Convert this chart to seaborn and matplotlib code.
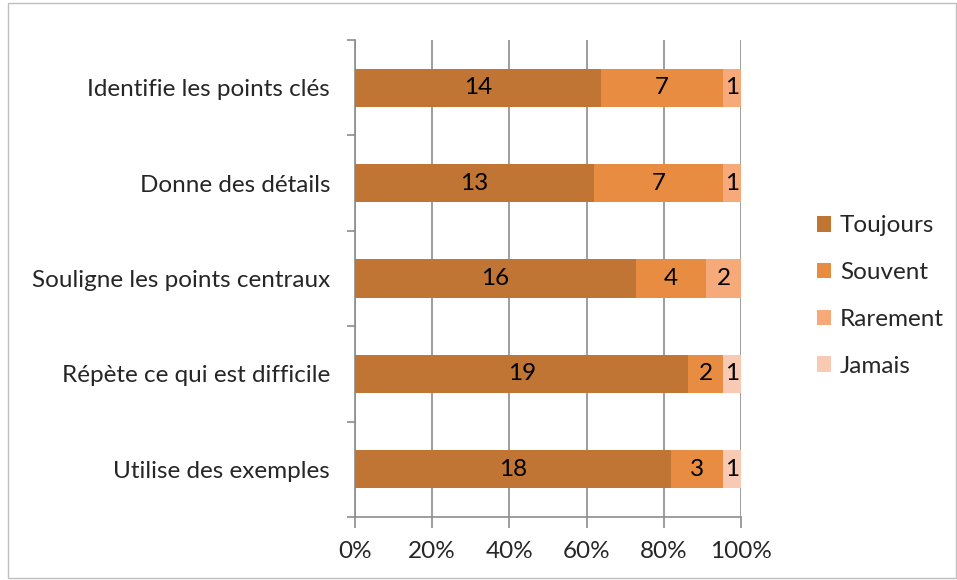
import matplotlib
matplotlib.use("Agg")
import matplotlib.pyplot as plt
import seaborn as sns
import numpy as np
import pandas as pd
from matplotlib.patches import Patch, Rectangle

categories = ["Identifie les points clés", "Donne des détails",
              "Souligne les points centraux", "Répète ce qui est difficile",
              "Utilise des exemples"]
series = ["Toujours", "Souvent", "Rarement", "Jamais"]
toujours = [14, 13, 16, 19, 18]
souvent = [7, 7, 4, 2, 3]
rarement = [1, 1, 2, 0, 0]
jamais = [0, 0, 0, 1, 1]
colors = ["#C07535", "#E88C42", "#F6AA7A", "#F9CAB3"]
xticklabels = ["0%", "20%", "40%", "60%", "80%", "100%"]

sns.set_theme(style="white")
plt.rcParams["font.family"] = ["Lato", "DejaVu Sans"]
FS = 17.5

vals = np.array([toujours, souvent, rarement, jamais], dtype=float)
tot = vals.sum(axis=0)
pct = vals / tot * 100
cum = np.cumsum(pct, axis=0)

fig = plt.figure(figsize=(9.57, 5.8), dpi=100)
ax = fig.add_axes([355/957, 1-517/580, (741-355)/957, (517-40)/580])

for i in range(len(series) - 1, -1, -1):
    df = pd.DataFrame({"cat": categories, "val": cum[i]})
    sns.barplot(data=df, x="val", y="cat", orient="h", color=colors[i],
                saturation=1, width=0.4, ax=ax, zorder=3, edgecolor="none")

for i in range(len(series)):
    for j in range(len(categories)):
        if vals[i, j] > 0:
            ax.text(cum[i, j] - pct[i, j] / 2, j, f"{int(vals[i, j])}",
                    ha="center", va="center", fontsize=FS, color="black", zorder=4)

ax.set_xlim(0, 100)
ax.set_ylim(len(categories) - 0.5, -0.5)
ax.set_xticks(np.arange(0, 101, 20))
ax.set_xticklabels(xticklabels, fontsize=FS)
ax.set_yticks(range(len(categories)))
ax.set_yticklabels(categories, fontsize=FS)
ax.set_xlabel("")
ax.set_ylabel("")
ax.grid(axis="x", color="#8c8c8c", linewidth=1.2, zorder=0)
ax.set_axisbelow(True)
for s in ["top", "right"]:
    ax.spines[s].set_visible(False)
for s in ["left", "bottom"]:
    ax.spines[s].set_color("#8c8c8c")
    ax.spines[s].set_linewidth(1.2)
ax.tick_params(axis="y", length=0, pad=18)
ax.tick_params(axis="x", length=8, color="#8c8c8c", width=1.2, pad=9, direction="out")
ax.tick_params(axis="x", bottom=True)
ax.set_yticks(np.arange(-0.5, len(categories), 1), minor=True)
ax.tick_params(axis="y", which="minor", length=6, color="#8c8c8c", width=1.2, left=True)

handles = [Patch(facecolor=c, edgecolor="none") for c in colors]
fig.legend(handles, series, loc="center left", bbox_to_anchor=(795/957, 1-296/580),
           frameon=False, fontsize=FS, handlelength=0.6, handleheight=0.6,
           handletextpad=0.35, labelspacing=1.06)

fig.patches.append(Rectangle((8/957, 2/580), 948/957, 575/580, transform=fig.transFigure,
                             fill=False, edgecolor="#bfbfbf", linewidth=1))

fig.savefig("out.png", dpi=100)
